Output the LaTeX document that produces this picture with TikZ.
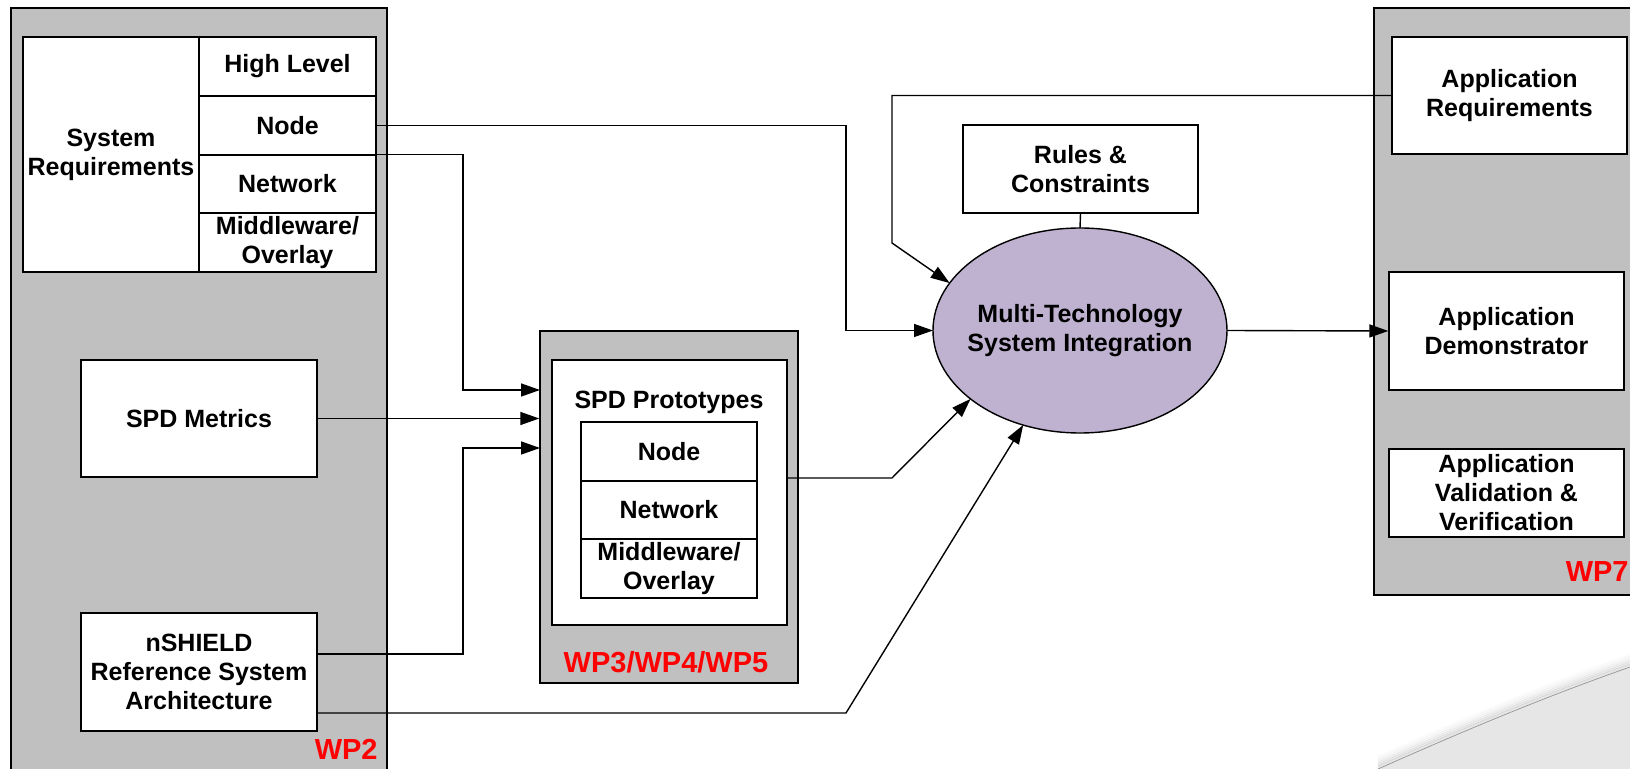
\documentclass[tikz,border=0pt]{standalone}
\usepackage{fontspec}
\setmainfont{Liberation Sans}
\usetikzlibrary{arrows.meta,calc,shapes.geometric}
\definecolor{wpgrey}{RGB}{192,192,192}
\definecolor{lav}{RGB}{191,178,209}
\definecolor{curl}{RGB}{230,230,230}
\begin{document}
\begin{tikzpicture}[x=0.5pt,y=-0.5pt,
  lbl/.style={font=\bfseries\fontsize{12.5}{14.5}\selectfont, align=center},
  box/.style={draw, fill=white, line width=0.7pt, inner sep=0pt, lbl},
  wpbox/.style={draw, fill=wpgrey, line width=0.7pt, inner sep=0pt},
  wplbl/.style={font=\bfseries\fontsize{14.5}{16}\selectfont, text=red, inner sep=0pt},
  conn/.style={line width=0.7pt},
  arr/.style={conn, -{Triangle[length=9.5pt,width=6.5pt]}}]
\useasboundingbox (0,0) rectangle (1630,769);
\fill[white] (0,0) rectangle (1630,769);

% page curl
\foreach \i/\o in {1/0.10,2/0.08,3/0.06,4/0.04,5/0.025,6/0.015}
  \draw[line width=1.2pt, black, opacity=\o, shift={(0,-2*\i)}]
    (1378,769) .. controls (1470,728) and (1550,695) .. (1630,667);
\fill[curl] (1378,769) .. controls (1470,728) and (1550,695) .. (1630,667) -- (1630,769) -- cycle;
\draw[black!40, line width=0.4pt] (1378,769) .. controls (1470,728) and (1550,695) .. (1630,667);

% work package containers
\node[wpbox, minimum width=188pt, minimum height=386pt] (wp2) at (199,394) {};
\node[wpbox, minimum width=133pt, minimum height=293.5pt] (wp7) at (1507,301.5) {};
\node[wpbox, minimum width=129pt, minimum height=176pt] (wp35) at (669,507) {};

% WP2 content
\node[box, minimum width=88pt, minimum height=117.5pt] (sysreq) at (111,154.5) {System\\Requirements};
\node[box, minimum width=88.5pt, minimum height=29.5pt] (hl) at (287.5,66.5) {High Level};
\node[box, minimum width=88.5pt, minimum height=29.5pt] (nd) at (287.5,125.5) {Node};
\node[box, minimum width=88.5pt, minimum height=29pt] (nw) at (287.5,184) {Network};
\node[box, minimum width=88.5pt, minimum height=29.5pt] (mw) at (287.5,242.5) {Middleware/\\Overlay};
\node[box, minimum width=118pt, minimum height=58.5pt] (spdm) at (199,418.5) {SPD Metrics};
\node[box, minimum width=118pt, minimum height=59pt] (nsh) at (199,672) {nSHIELD\\Reference System\\Architecture};
\node[wplbl, anchor=east] (wp2l) at (378,749) {WP2};

% WP3/4/5 content
\node[box, minimum width=117.5pt, minimum height=132.5pt] (spdp) at (669.5,492.5) {};
\node[lbl] (spdt) at (669,402) {SPD Prototypes};
\node[box, minimum width=88pt, minimum height=29.5pt] (pnode) at (669,451.5) {Node};
\node[box, minimum width=88pt, minimum height=29pt] (pnet) at (669,510) {Network};
\node[box, minimum width=88pt, minimum height=29.5pt] (pmw) at (669,568.5) {Middleware/\\Overlay};
\node[wplbl] (wp35l) at (666,662) {WP3/WP4/WP5};

% centre
\node[box, minimum width=117.5pt, minimum height=44pt] (rules) at (1080.5,169) {Rules \&\\Constraints};
\node[ellipse, draw, fill=lav, line width=0.7pt, inner ysep=0pt, inner xsep=-8pt, outer sep=0pt, lbl,
      minimum width=147pt, minimum height=102.5pt] (mtsi) at (1080,330.5) {Multi-Technology\\System Integration};

% WP7 content
\node[box, minimum width=117.5pt, minimum height=58.5pt] (appreq) at (1509.5,95.5) {Application\\Requirements};
\node[box, minimum width=117.5pt, minimum height=59pt] (appdemo) at (1506.5,331) {Application\\Demonstrator};
\node[box, minimum width=117.5pt, minimum height=44pt] (appval) at (1506.5,493) {Application\\Validation \&\\Verification};
\node[wplbl, anchor=east] (wp7l) at (1629,572) {WP7};

% connector end points
\coordinate (in1) at (540,390);
\coordinate (in3) at (540,448);
\coordinate (ns1) at (317,654);
\coordinate (ns2) at (317,713);
\coordinate (spout) at (787,478);

% connectors
\draw[arr] (nd.east) -| ($(mtsi.west)+(-87,0)$) -- (mtsi.west);
\draw[arr] (nw.north east) -| ($(in1)+(-77,0)$) -- (in1);
\draw[arr] (spdm.east) -- (wp35.west |- spdm.east);
\draw[arr] (ns1) -| ($(in3)+(-77,0)$) -- (in3);
\draw[arr] (spout) -- (892,478) -- (mtsi.212);
\draw[arr] (ns2) -- (846,713) -- (mtsi.239);
\draw[arr] (appreq.west) -- (892,95.5) -- (892,243) -- (mtsi.160);
\draw[conn] (rules.south) -- (mtsi.north);
\draw[arr] (mtsi.east) -- (appdemo.west);
\end{tikzpicture}
\end{document}
